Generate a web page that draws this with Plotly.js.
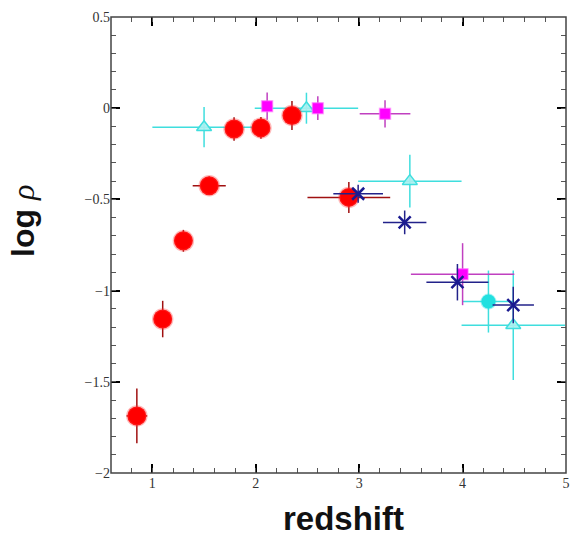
<!DOCTYPE html>
<html>
<head>
<meta charset="utf-8">
<script src="https://cdn.plot.ly/plotly-3.0.1.min.js"></script>
<style>html,body{margin:0;padding:0;background:#fff;}#chart{width:572px;height:536px;}.modebar-container,.modebar{display:none !important;}</style>
</head>
<body>
<div id="chart"></div>
<script>
// Red circles
const redX = [0.85, 1.10, 1.30, 1.55, 1.79, 2.05, 2.35, 2.90];
const redY = [-1.687, -1.156, -0.727, -0.425, -0.114, -0.108, -0.04, -0.489];
const redXErr = [0.10, 0.05, 0.05, 0.16, 0.08, 0.08, 0.05, 0.40];
const redYErr = [0.15, 0.10, 0.06, 0.05, 0.065, 0.06, 0.08, 0.085];
// Magenta squares
const magX = [2.11, 2.60, 3.25, 4.00];
const magY = [0.011, 0.0, -0.031, -0.91];
const magXErr = [0.05, 0.05, 0.245, 0.5];
const magYErr = [0.075, 0.065, 0.075, 0.17];
// Blue stars
const blueX = [2.99, 3.44, 3.95, 4.49];
const blueY = [-0.469, -0.626, -0.954, -1.079];
const blueXErr = [0.24, 0.21, 0.30, 0.20];
const blueYErr = [0.05, 0.065, 0.10, 0.10];
// Cyan triangles
const triX = [1.50, 2.49, 3.49, 4.49];
const triY = [-0.104, 0.0, -0.40, -1.19];
const triXErr = [0.5, 0.5, 0.5, 0.5];
const triYErr = [0.11, 0.085, 0.145, 0.3];
// Cyan circle
const cycX = [4.25];
const cycY = [-1.06];
const cycXErr = [0.25];
const cycYErr = [0.17];
// Tick labels
const yTickVals = [-2, -1.5, -1, -0.5, 0, 0.5];
const yTickText = ['\u22122', '\u22121.5', '\u22121', '\u22120.5', '0', '0.5'];

const xRange = [0.6, 5];
const yRange = [-2, 0.5];

function eb(arr, color) {
  return {type: 'data', array: arr, visible: true, color: color, thickness: 1.5, width: 0};
}

const cyan = '#3fdede';
const traces = [
  {x: triX, y: triY, mode: 'markers', type: 'scatter',
   error_x: eb(triXErr, cyan), error_y: eb(triYErr, cyan),
   marker: {symbol: 'triangle-up', size: 13, color: 'rgba(170,240,240,0.9)', line: {color: cyan, width: 1.5}}},
  {x: cycX, y: cycY, mode: 'markers', type: 'scatter',
   error_x: eb(cycXErr, cyan), error_y: eb(cycYErr, cyan),
   marker: {symbol: 'circle', size: 14, color: '#22e0e0', line: {color: 'rgba(34,224,224,0.4)', width: 2}}},
  {x: redX, y: redY, mode: 'markers', type: 'scatter',
   error_x: eb(redXErr, '#a01010'), error_y: eb(redYErr, '#a01010'),
   marker: {symbol: 'circle', size: 19, color: '#ff0000', line: {color: 'rgba(255,60,60,0.35)', width: 2.5}}},
  {x: magX, y: magY, mode: 'markers', type: 'scatter',
   error_x: eb(magXErr, '#c040c0'), error_y: eb(magYErr, '#c040c0'),
   marker: {symbol: 'square', size: 11, color: '#ff00ff', line: {color: 'rgba(255,120,255,0.5)', width: 1.5}}},
  {x: blueX, y: blueY, mode: 'markers', type: 'scatter',
   error_x: eb(blueXErr, '#22228a'), error_y: eb(blueYErr, '#22228a'),
   marker: {symbol: 'x-thin-open', size: 12, color: '#1a1a90', line: {color: '#1a1a90', width: 2.5}}},
  // empty helper traces so the tick-only overlay axes are instantiated
  {x: [], y: [], xaxis: 'x2', yaxis: 'y2', type: 'scatter', mode: 'markers', hoverinfo: 'skip'},
  {x: [], y: [], xaxis: 'x3', yaxis: 'y3', type: 'scatter', mode: 'markers', hoverinfo: 'skip'},
  {x: [], y: [], xaxis: 'x4', yaxis: 'y4', type: 'scatter', mode: 'markers', hoverinfo: 'skip'}
];

const tickFont = {family: 'Liberation Serif, Times New Roman, serif', size: 14, color: '#333'};

function tickAxis(extra) {
  return Object.assign({
    showgrid: false, zeroline: false, showline: false,
    ticks: 'inside', tickcolor: 'black', tickwidth: 2, showticklabels: false
  }, extra);
}

const layout = {
  width: 572, height: 536,
  margin: {l: 111, r: 6, t: 17, b: 63},
  paper_bgcolor: '#fff', plot_bgcolor: '#fff',
  showlegend: false,
  xaxis: tickAxis({range: xRange, tickmode: 'linear', tick0: 0, dtick: 1, ticklen: 9,
    showticklabels: true, tickfont: tickFont}),
  yaxis: tickAxis({range: yRange, tickmode: 'array', tickvals: yTickVals, ticktext: yTickText, ticklen: 9,
    showticklabels: true, tickfont: tickFont}),
  xaxis2: tickAxis({range: xRange, overlaying: 'x', side: 'top', anchor: 'y2', tickmode: 'linear', tick0: 0, dtick: 1, ticklen: 9}),
  yaxis2: tickAxis({range: yRange, overlaying: 'y', side: 'right', anchor: 'x2', tickmode: 'linear', tick0: 0, dtick: 0.5, ticklen: 9}),
  xaxis3: tickAxis({range: xRange, overlaying: 'x', side: 'bottom', anchor: 'y3', tickmode: 'linear', tick0: 0, dtick: 0.2, ticklen: 5, tickwidth: 1, tickcolor: '#555'}),
  yaxis3: tickAxis({range: yRange, overlaying: 'y', side: 'left', anchor: 'x3', tickmode: 'linear', tick0: 0, dtick: 0.1, ticklen: 5, tickwidth: 1, tickcolor: '#555'}),
  xaxis4: tickAxis({range: xRange, overlaying: 'x', side: 'top', anchor: 'y4', tickmode: 'linear', tick0: 0, dtick: 0.2, ticklen: 5, tickwidth: 1, tickcolor: '#555'}),
  yaxis4: tickAxis({range: yRange, overlaying: 'y', side: 'right', anchor: 'x4', tickmode: 'linear', tick0: 0, dtick: 0.1, ticklen: 5, tickwidth: 1, tickcolor: '#555'}),
  shapes: [
    {type: 'rect', xref: 'paper', yref: 'paper', x0: 0, x1: 1, y0: 0, y1: 1,
     line: {color: '#444', width: 1.5}, fillcolor: 'rgba(0,0,0,0)', layer: 'above'}
  ],
  annotations: [
    {text: '<b>redshift</b>', xref: 'paper', yref: 'paper', x: 0.51, y: -0.1,
     xanchor: 'center', yanchor: 'middle', showarrow: false,
     font: {family: 'Liberation Sans, Arial, sans-serif', size: 33, color: '#111'}},
    {text: '<b>log</b> <span style="font-family:Liberation Serif;font-style:italic">ρ</span>', xref: 'paper', yref: 'paper', x: -0.192, y: 0.552,
     xanchor: 'center', yanchor: 'middle', showarrow: false, textangle: -90,
     font: {family: 'Liberation Sans, Arial, sans-serif', size: 32, color: '#111'}}
  ]
};

Plotly.newPlot('chart', traces, layout);
</script>
</body>
</html>
